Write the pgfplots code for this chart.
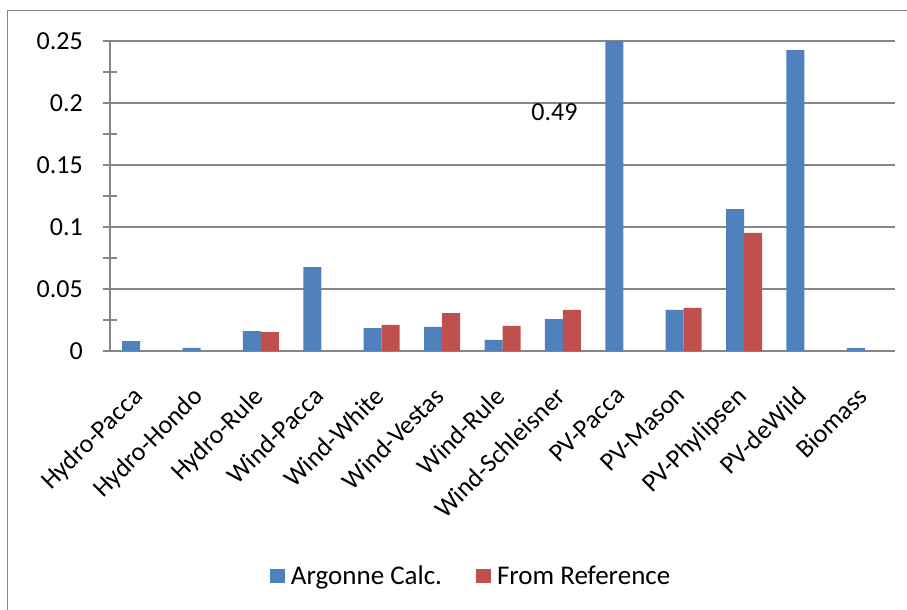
\documentclass[border=0pt]{standalone}
\usepackage{fontspec}
\setmainfont{Carlito}
\usepackage{pgfplots}
\pgfplotsset{compat=1.18}
\definecolor{argblue}{HTML}{4F81BD}
\definecolor{refred}{HTML}{C0504D}
\definecolor{gridgray}{HTML}{868686}
\newcommand{\bigfont}{\fontsize{26}{31}\selectfont}
\newcommand{\legfont}{\fontsize{27}{32}\selectfont}
\begin{document}
\begin{tikzpicture}
\begin{axis}[
  at={(0pt,0pt)}, anchor=south west,
  scale only axis, width=785pt, height=310pt,
  xmin=-0.5, xmax=12.5, ymin=0, ymax=0.25,
  axis x line*=bottom, axis y line*=left,
  x axis line style={-, gridgray, line width=1.5pt},
  y axis line style={-, gridgray, line width=1.5pt},
  ytick={0,0.05,0.1,0.15,0.2,0.25},
  yticklabels={0,0.05,0.1,0.15,0.2,0.25},
  minor y tick num=1,
  tick align=center,
  major tick length=14pt, minor tick length=13pt,
  ytick style={gridgray, line width=1.5pt},
  ymajorgrids, major grid style={gridgray, line width=1.5pt},
  xtick={0,...,12},
  xtick style={draw=none},
  xticklabels={Hydro-Pacca,Hydro-Hondo,Hydro-Rule,Wind-Pacca,Wind-White,Wind-Vestas,Wind-Rule,Wind-Schleisner,PV-Pacca,PV-Mason,PV-Phylipsen,PV-deWild,Biomass},
  tick label style={font=\bigfont},
  yticklabel style={anchor=east, inner sep=0pt, xshift=-20pt},
  xticklabel style={xshift=-9pt, yshift=-27pt, rotate=45, anchor=north east, inner sep=0pt},
  /pgf/number format/assume math mode=true,
  legend columns=2,
  legend style={at={(0.46,-0.726)}, anchor=center, draw=none, fill=none, font=\legfont,
    nodes={inner sep=2pt},
    /tikz/every odd column/.append style={column sep=4pt},
    /tikz/every even column/.append style={column sep=32pt}},
]
\addplot[ybar, bar width=18pt, bar shift=-9pt, fill=argblue, draw=none,
  legend image code/.code={\fill[argblue] (0pt,-7pt) rectangle (15pt,7pt);}]
  coordinates {(0,0.008) (1,0.0025) (2,0.0161) (3,0.0677) (4,0.0185) (5,0.0194) (6,0.0089) (7,0.0258) (8,0.49) (9,0.0331) (10,0.1145) (11,0.2427) (12,0.0024)};
\addlegendentry{Argonne Calc.}
\addplot[ybar, bar width=18pt, bar shift=9pt, fill=refred, draw=none,
  legend image code/.code={\fill[refred] (0pt,-7pt) rectangle (15pt,7pt);}]
  coordinates {(2,0.0153) (4,0.021) (5,0.0306) (6,0.0202) (7,0.0331) (9,0.0347) (10,0.0952)};
\addlegendentry{From Reference}
\node[font=\bigfont, inner sep=0pt] at (axis cs:6.861,0.1927) {0.49};
\end{axis}
\draw[gridgray, line width=1pt] (-102pt,-270pt) -- (-102pt,340pt) -- (810pt,340pt);
\pgfresetboundingbox
\path (-110pt,-259pt) rectangle (797pt,351pt);
\end{tikzpicture}
\end{document}
